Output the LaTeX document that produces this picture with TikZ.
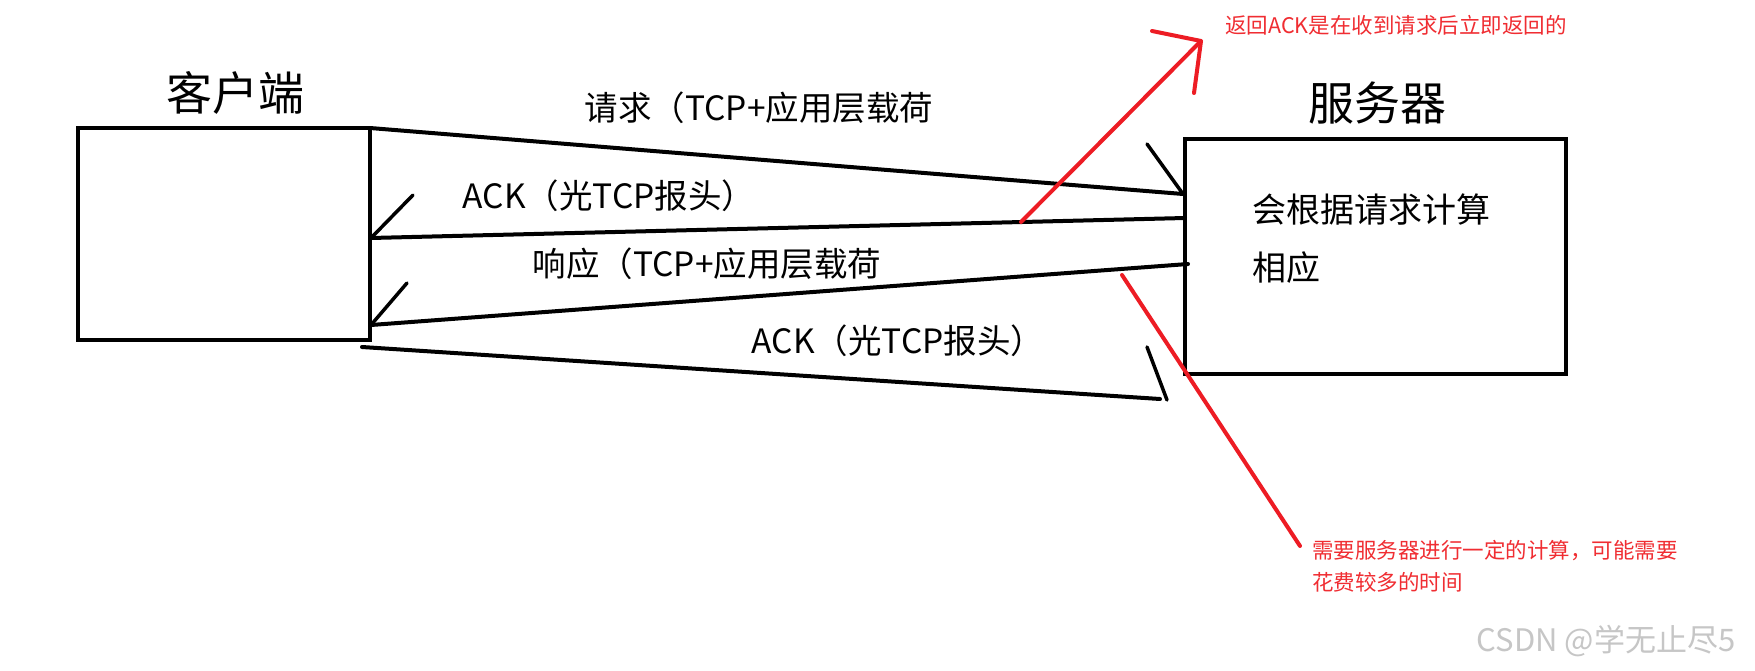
\documentclass[tikz,border=0pt]{standalone}
\usepackage{fontspec}
\setmainfont{Noto Sans CJK SC}
\usetikzlibrary{calc}
\definecolor{paintred}{RGB}{237,28,36}
\definecolor{notered}{RGB}{240,45,50}
\begin{document}
\begin{tikzpicture}[x=1pt,y=-1pt,
  box/.style={draw=black,line width=4.5pt,outer sep=0pt,inner sep=0pt},
  wire/.style={line width=4pt,line cap=round,line join=round},
  barb/.style={line width=3.5pt,line cap=round},
  redline/.style={draw=paintred,line width=4pt,line cap=round,line join=round},
  title/.style={font=\fontsize{46}{52}\selectfont,inner sep=0pt},
  lbl/.style={font=\fontsize{33.5}{40}\selectfont,inner sep=0pt},
  note/.style={text=notered,font=\fontsize{21.5}{32}\selectfont,inner sep=0pt}
]
\useasboundingbox (0,0) rectangle (1755,671);
\fill[white] (0,0) rectangle (1755,671);

% boxes
\node[box,minimum width=292pt,minimum height=212pt] (client) at (224,234) {};
\node[box,minimum width=381pt,minimum height=235pt] (server) at (1375.5,256.5) {};

\node[title] (clientT) at (235,93) {客户端};
\node[title] (serverT) at (1377,103) {服务器};
\node[align=left,anchor=west,inner sep=0pt,font=\fontsize{34}{58}\selectfont] (calc) at (1252,239) {会根据请求计算\\相应};

% request
\coordinate (reqEnd) at (1183,194);
\coordinate (reqBarb) at (1147,144);
\draw[wire] (client.north east) -- (reqEnd);
\draw[barb] (reqBarb) -- (reqEnd);
\node[lbl] (reqL) at (759,108) {请求（TCP+应用层载荷};

% ack 1
\coordinate (ack1S) at (1185,218);
\coordinate (ack1Tip) at (371,238);
\coordinate (ack1Barb) at (413,195);
\draw[wire] (ack1S) -- (ack1Tip);
\draw[barb] (ack1Barb) -- (ack1Tip);
\node[lbl] (ack1L) at (609,196) {ACK（光TCP报头）};

% response
\coordinate (respS) at (1188,264);
\coordinate (respTip) at (371,325);
\coordinate (respBarb) at (407,283);
\draw[wire] (respS) -- (respTip);
\draw[barb] (respBarb) -- (respTip);
\node[lbl] (respL) at (707,264) {响应（TCP+应用层载荷};

% ack 2
\coordinate (ack2S) at (362,347);
\coordinate (ack2End) at (1160,399);
\coordinate (ack2Barb) at (1147,347);
\coordinate (ack2BarbE) at (1167,400);
\draw[wire] (ack2S) -- (ack2End);
\draw[barb] (ack2Barb) -- (ack2BarbE);
\node[lbl] (ack2L) at (898,341) {ACK（光TCP报头）};

% red annotations
\coordinate (r1S) at (1021,222);
\coordinate (r1Tip) at (1201,41);
\coordinate (r1B1) at (1152,31);
\coordinate (r1B2) at (1194,93);
\draw[redline] (r1S) -- (r1Tip);
\draw[redline] (r1B1) -- (r1Tip) -- (r1B2);
\node[note] (n1) at (1396,25) {返回ACK是在收到请求后立即返回的};

\coordinate (r2S) at (1122,275);
\coordinate (r2E) at (1300,546);
\draw[redline] (r2S) -- (r2E);
\node[note,align=left,anchor=north west] (n2) at (1312,540) {需要服务器进行一定的计算，可能需要\\花费较多的时间};

% watermark
\node[text=gray!45,font=\fontsize{31}{34}\selectfont,inner sep=0pt] (wm) at (1606,641) {CSDN @学无止尽5};
\end{tikzpicture}
\end{document}
